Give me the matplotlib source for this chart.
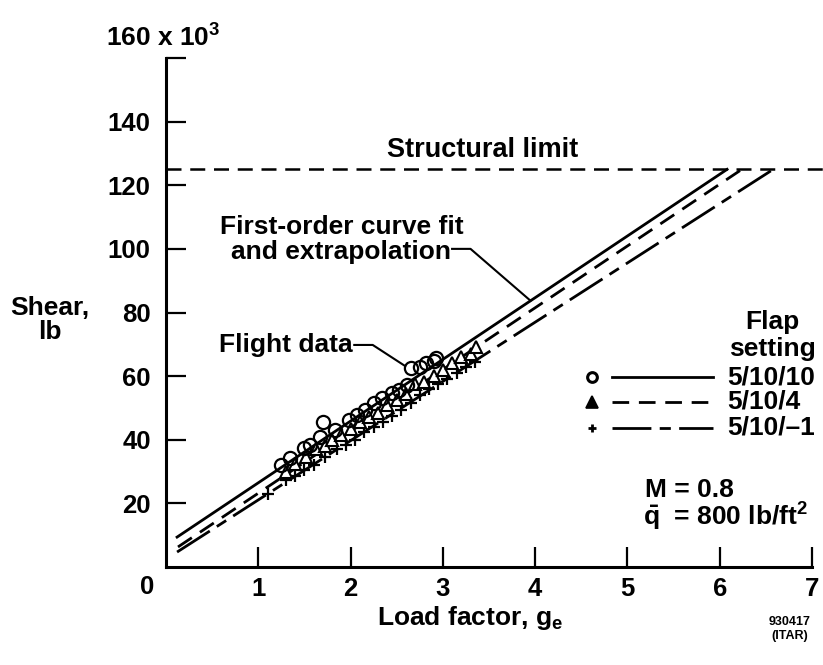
import matplotlib
matplotlib.use("Agg")
import matplotlib.pyplot as plt

plt.rcParams['font.family'] = ['Liberation Sans', 'DejaVu Sans']
plt.rcParams['font.weight'] = 'bold'
plt.rcParams['mathtext.fontset'] = 'custom'
plt.rcParams['mathtext.rm'] = 'Liberation Sans:bold'
plt.rcParams['mathtext.it'] = 'Liberation Sans:bold'
plt.rcParams['mathtext.bf'] = 'Liberation Sans:bold'

# ---- data (load factor g_e, shear in 10^3 lb) ----
flap_settings = ["5/10/10", "5/10/4", "5/10/\u20131"]

circle_x = [1.25, 1.34, 1.49, 1.56, 1.67, 1.70, 1.83, 1.98, 2.07, 2.16, 2.25, 2.34,
            2.45, 2.52, 2.61, 2.66, 2.75, 2.82, 2.90, 2.93]
circle_y = [32.1, 34.2, 37.3, 38.4, 41.0, 45.7, 43.1, 46.2, 47.8, 49.4, 51.5, 53.0,
            54.6, 55.7, 57.2, 62.5, 63.0, 64.1, 64.6, 65.6]

tri_x = [1.30, 1.40, 1.52, 1.62, 1.72, 1.80, 1.90, 2.00, 2.10, 2.20, 2.30, 2.40,
         2.50, 2.60, 2.70, 2.80, 2.90, 3.00, 3.10, 3.20, 3.30, 3.36]
tri_y = [30.0, 32.5, 34.5, 37.0, 38.0, 40.0, 41.5, 43.5, 45.5, 47.0, 48.5, 51.0,
         52.5, 54.5, 57.5, 58.0, 60.0, 62.0, 64.0, 66.0, 67.0, 69.0]

plus_x = [1.10, 1.30, 1.40, 1.50, 1.60, 1.72, 1.85, 1.95, 2.05, 2.15, 2.25, 2.35,
          2.45, 2.55, 2.65, 2.75, 2.85, 2.95, 3.05, 3.15, 3.25, 3.35]
plus_y = [23.0, 27.5, 28.5, 30.5, 32.0, 34.5, 37.0, 38.5, 40.0, 42.5, 44.0, 45.5,
          47.5, 49.5, 51.5, 54.0, 56.0, 57.5, 59.0, 61.0, 63.0, 64.5]

# first-order fits: start point and end x where they reach the structural limit
fit_x0 = [0.12, 0.13, 0.12]
fit_y0 = [9.4, 6.3, 4.7]
fit_x1 = [6.08, 6.24, 6.58]
structural_limit = 125.0

x_ticks = [1, 2, 3, 4, 5, 6, 7]
y_ticks = [20, 40, 60, 80, 100, 120, 140, 160]
y_tick_labels = ["20", "40", "60", "80", "100", "120", "140", ""]

# ---- figure ----
W, H = 823, 665
fig = plt.figure(figsize=(W / 100, H / 100), dpi=100)
L, R, B, T = 166, 812, 567, 58
ax = fig.add_axes([L / W, 1 - B / H, (R - L) / W, (B - T) / H])
ax.set_xlim(0, 7)
ax.set_ylim(0, 160)
for s in ['top', 'right']:
    ax.spines[s].set_visible(False)
for s in ['left', 'bottom']:
    ax.spines[s].set_linewidth(2.2)

ax.set_xticks(x_ticks)
ax.set_xticklabels([str(t) for t in x_ticks])
ax.set_yticks(y_ticks)
ax.set_yticklabels(y_tick_labels)
ax.tick_params(axis='both', direction='in', length=14.5, width=1.6,
               labelsize=18.5)
ax.tick_params(axis='x', pad=7)
ax.tick_params(axis='y', pad=11)

fs = 19
fit_styles = [dict(linestyle='-'),
              dict(linestyle=(0, (6, 3.5))),
              dict(linestyle=(0, (14, 3, 4, 3)))]

# structural limit
ax.plot([0, 7.12], [structural_limit, structural_limit], color='black', lw=1.8,
        linestyle=(0, (6, 3.5)), clip_on=False)

# fit lines
for i in range(3):
    ax.plot([fit_x0[i], fit_x1[i]], [fit_y0[i], structural_limit], color='black',
            lw=2.0, **fit_styles[i])

# flight data
ax.plot(plus_x, plus_y, linestyle='none', marker='+', ms=9, mew=1.6, color='black')
ax.plot(tri_x, tri_y, linestyle='none', marker='^', ms=8.5, mew=1.5,
        mfc='white', mec='black')
ax.plot(circle_x, circle_y, linestyle='none', marker='o', ms=9.5, mew=1.6,
        mfc='none', mec='black')

# legend (manual)
leg_y = [59.7, 51.9, 43.7]
leg_markers = [dict(marker='o', ms=7, mew=2.2, mfc='white', mec='black'),
               dict(marker='^', ms=8, mew=1.2, mfc='black', mec='black'),
               dict(marker='+', ms=6, mew=2.0, color='black')]
for i in range(3):
    ax.plot([4.62], [leg_y[i]], linestyle='none', clip_on=False, **leg_markers[i])
    ax.plot([4.83, 5.93], [leg_y[i], leg_y[i]], color='black', lw=2.0,
            clip_on=False, **fit_styles[i])
    ax.text(6.08, leg_y[i], flap_settings[i], fontsize=fs, ha='left',
            va='center', clip_on=False)
ax.text(6.57, 72.8, "Flap\nsetting", fontsize=fs, ha='center', va='center',
        linespacing=1.12, clip_on=False)

# annotations
ax.text(3.43, 131.0, "Structural limit", fontsize=19.5, ha='center', va='center')
ax.text(1.90, 103.0, "First-order curve fit\nand extrapolation", fontsize=fs,
        ha='center', va='center', linespacing=1.05)
ax.plot([3.10, 3.30, 3.95], [100.0, 100.0, 83.7], color='black', lw=1.5)
ax.text(2.02, 69.8, "Flight data", fontsize=fs, ha='right', va='center')
ax.plot([2.04, 2.24, 2.59], [69.8, 69.8, 63.2], color='black', lw=1.5)

ax.text(5.19, 24.2, "M = 0.8", fontsize=fs, ha='left', va='center')
ax.text(5.17, 15.7, r"$\bar{\mathrm{q}}$  = 800 lb/ft$^{2}$", fontsize=fs,
        ha='left', va='center')

# axis labels / outer texts (figure pixel positions)
def ftxt(px, py, s, **kw):
    fig.text(px / W, 1 - py / H, s, **kw)

ftxt(163, 38, r"160 x 10$^{3}$", fontsize=fs, ha='center', va='center')
ftxt(147, 587, "0", fontsize=18.5, ha='center', va='center')
ftxt(50, 320, "Shear,\nlb", fontsize=fs, ha='center', va='center',
     linespacing=1.05)
ftxt(470, 618, r"Load factor, g$_{\mathrm{e}}$", fontsize=fs, ha='center',
     va='center')
ftxt(790, 629, "930417\n(ITAR)", fontsize=9, ha='center', va='center',
     linespacing=1.2)

fig.savefig("out.png", dpi=100)
